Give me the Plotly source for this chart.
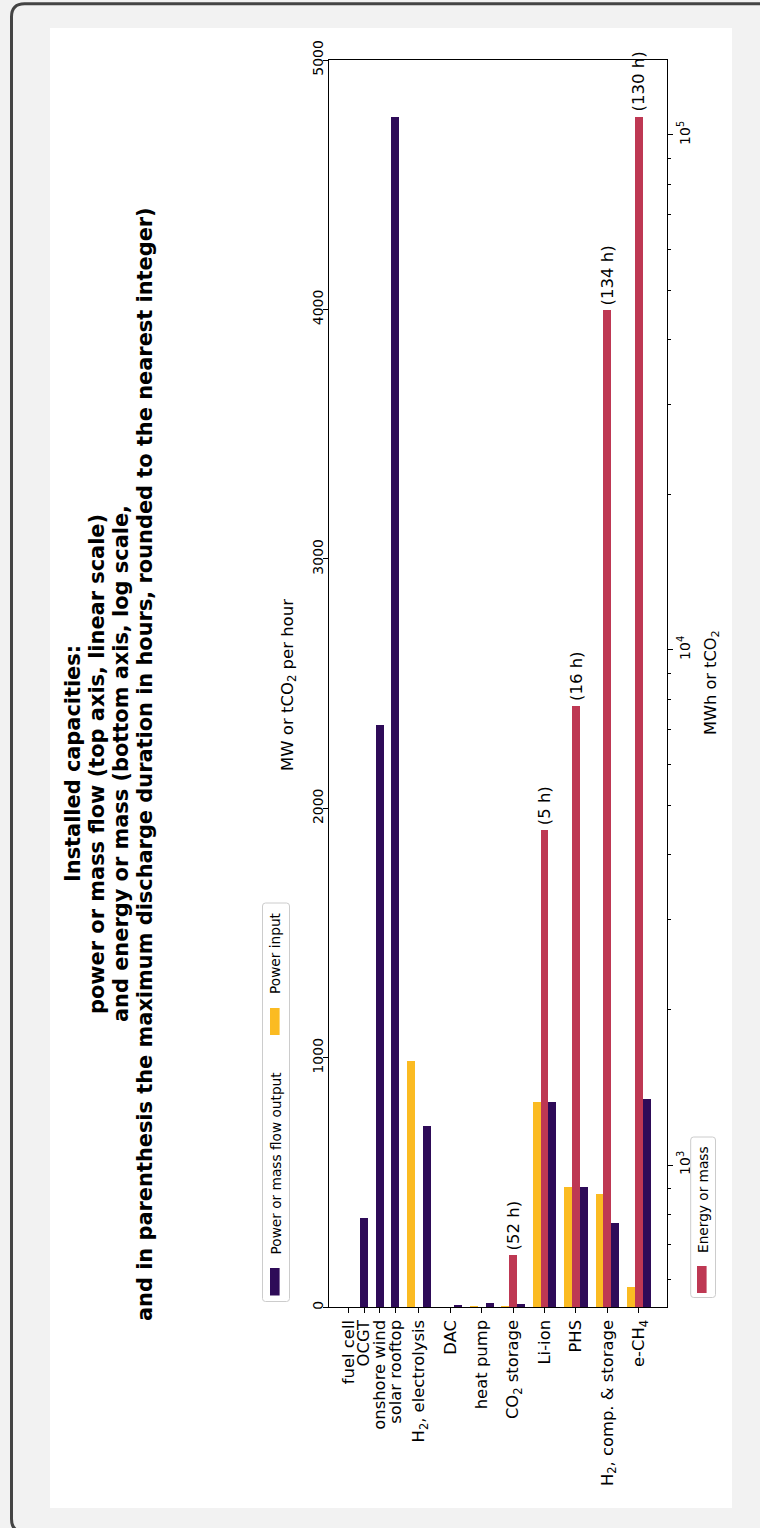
import numpy as np
import plotly.graph_objects as go

# ---------------- data ----------------
categories = ["fuel cell", "OCGT", "onshore wind", "solar rooftop",
              "H<sub>2</sub>, electrolysis", "DAC", "heat pump",
              "CO<sub>2</sub> storage", "Li-ion", "PHS",
              "H<sub>2</sub>, comp. & storage", "e-CH<sub>4</sub>"]
power_output = [0, 357, 2336, 4770, 727, 10, 16, 13, 823, 482, 339, 834]      # MW or tCO2/h
power_input = [None, None, None, None, 987, 0, 3, 3, 823, 482, 453, 81]        # MW
energy = [None, None, None, None, None, None, None, 668, 4467, 7782, 45700, 108500]  # MWh or tCO2
duration_text = [None, None, None, None, None, None, None,
                 "(52 h)", "(5 h)", "(16 h)", "(134 h)", "(130 h)"]
lin_ticks = [0, 1000, 2000, 3000, 4000, 5000]
log_ticks = [1e3, 1e4, 1e5]
log_ticktext = ["10<sup>3</sup>", "10<sup>4</sup>", "10<sup>5</sup>"]

# ---------------- layout helpers ----------------
W, H = 760, 1528
FONT = "DejaVu Sans"
C_OUT = "#2e0b58"
C_IN = "#fbbb22"
C_EN = "#be3853"

slot = [0, 0.5, 1, 1.5, 2.25, 3.25, 4.25, 5.25, 6.25, 7.25, 8.25, 9.25]
BW = 0.25

def px(x):
    return x / W

def py(y):
    return 1 - y / H

def rrect(x0, y0, x1, y1, r):
    pts = [
        f"M {px(x0 + r)},{py(y0)}",
        f"L {px(x1 - r)},{py(y0)}",
        f"Q {px(x1)},{py(y0)} {px(x1)},{py(y0 + r)}",
        f"L {px(x1)},{py(y1 - r)}",
        f"Q {px(x1)},{py(y1)} {px(x1 - r)},{py(y1)}",
        f"L {px(x0 + r)},{py(y1)}",
        f"Q {px(x0)},{py(y1)} {px(x0)},{py(y1 - r)}",
        f"L {px(x0)},{py(y0 + r)}",
        f"Q {px(x0)},{py(y0)} {px(x0 + r)},{py(y0)}",
        "Z",
    ]
    return " ".join(pts)

grouped = [(pi is not None) or (e is not None) for pi, e in zip(power_input, energy)]
x_out = [s + (BW if g else 0) for s, g in zip(slot, grouped)]
x_in = [s - BW for s in slot]

fig = go.Figure()

fig.add_trace(go.Bar(x=x_in, y=power_input, width=BW, marker=dict(color=C_IN, line=dict(width=0)),
                     name="Power input", showlegend=False, yaxis="y"))
fig.add_trace(go.Bar(x=x_out, y=power_output, width=BW, marker=dict(color=C_OUT, line=dict(width=0)),
                     name="Power or mass flow output", showlegend=False, yaxis="y"))
fig.add_trace(go.Bar(x=slot, y=energy, width=BW, marker=dict(color=C_EN, line=dict(width=0)),
                     name="Energy or mass", showlegend=False, yaxis="y2"))

# plot area in pixels
PL, PR, PT, PB = 329, 667, 60, 1307.3
UNIT = 31.4
x0_px = 348.3

fig.update_layout(
    width=W, height=H, autosize=False,
    margin=dict(l=0, r=0, t=0, b=0, pad=0),
    paper_bgcolor="#f2f2f2", plot_bgcolor="white",
    barmode="overlay", bargap=0,
    font=dict(family=FONT, color="black"),
    xaxis=dict(domain=[px(PL), px(PR)],
               range=[(PL - x0_px) / UNIT, (PR - x0_px) / UNIT],
               tickmode="array", tickvals=slot, ticktext=categories,
               tickangle=-90, tickfont=dict(size=16.4, family=FONT, color="black"),
               ticks="outside", ticklen=5, tickwidth=1.2, tickcolor="black",
               showline=True, linecolor="black", linewidth=1.2, mirror=True,
               showgrid=False, zeroline=False, automargin=False),
    yaxis=dict(domain=[py(PB), py(PT)], range=[0, 5000],
               tickmode="array", tickvals=lin_ticks,
               tickangle=-90, tickfont=dict(size=14, family=FONT, color="black"),
               ticklabelstandoff=-6,
               ticks="outside", ticklen=5, tickwidth=1.2, tickcolor="black",
               showline=True, linecolor="black", linewidth=1.2,
               showgrid=False, zeroline=False, automargin=False),
    yaxis2=dict(overlaying="y", side="right", type="log",
                range=[2.7237, 5.1456],
                tickmode="array", tickvals=log_ticks, ticktext=log_ticktext,
                tickangle=-90, tickfont=dict(size=14, family=FONT, color="black"),
                ticks="outside", ticklen=5, tickwidth=1.2, tickcolor="black",
                minor=dict(tickmode="array",
                           tickvals=[m * 10 ** k for k in (2, 3, 4) for m in range(2, 10)],
                           ticks="outside", ticklen=3, tickwidth=1, tickcolor="black",
                           showgrid=False),
                showline=True, linecolor="black", linewidth=1.2,
                showgrid=False, zeroline=False, automargin=False),
)

shapes = []
# white figure area
shapes.append(dict(type="rect", xref="paper", yref="paper", layer="below",
                   x0=px(50), x1=px(732), y0=py(1508), y1=py(28),
                   fillcolor="white", line=dict(width=0)))
# outer rounded frame
shapes.append(dict(type="path", xref="paper", yref="paper", layer="below",
                   path=rrect(11.5, 3.7, 820, 1532, 13),
                   line=dict(color="#444444", width=3), fillcolor="rgba(0,0,0,0)"))
# legend 1 box and patches
shapes.append(dict(type="path", xref="paper", yref="paper",
                   path=rrect(262.5, 903, 289.5, 1301.5, 3),
                   line=dict(color="#cccccc", width=1), fillcolor="rgba(255,255,255,0.8)"))
shapes.append(dict(type="rect", xref="paper", yref="paper",
                   x0=px(270), x1=px(279.6), y0=py(1295.5), y1=py(1268),
                   fillcolor=C_OUT, line=dict(width=0)))
shapes.append(dict(type="rect", xref="paper", yref="paper",
                   x0=px(270), x1=px(279.6), y0=py(1035), y1=py(1008),
                   fillcolor=C_IN, line=dict(width=0)))
# legend 2 box and patch
shapes.append(dict(type="path", xref="paper", yref="paper",
                   path=rrect(690.7, 1137, 715.5, 1297.5, 3),
                   line=dict(color="#cccccc", width=1), fillcolor="rgba(255,255,255,0.8)"))
shapes.append(dict(type="rect", xref="paper", yref="paper",
                   x0=px(697), x1=px(706.6), y0=py(1293), y1=py(1266),
                   fillcolor=C_EN, line=dict(width=0)))
fig.update_layout(shapes=shapes)

ann = []
def rot_text(text, x, y, size, bold=False, yanchor="middle"):
    if bold:
        text = f"<b>{text}</b>"
    ann.append(dict(text=text, x=px(x), y=py(y), xref="paper", yref="paper",
                    xanchor="center", yanchor=yanchor, showarrow=False,
                    textangle=-90, font=dict(family=FONT, size=size, color="black")))

# title lines
title_lines = ["Installed capacities:",
               "power or mass flow (top axis, linear scale)",
               "and energy or mass (bottom axis, log scale,",
               "and in parenthesis the maximum discharge duration in hours, rounded to the nearest integer)"]
for i, t in enumerate(title_lines):
    rot_text(t, 73 + i * 24, 764, 20.9, bold=True)

# axis titles
rot_text("MW or tCO<sub>2</sub> per hour", 288, 685, 16.5)
rot_text("MWh or tCO<sub>2</sub>", 712, 683, 16.2)

# legend texts
rot_text("Power or mass flow output", 275, 1257, 13.7, yanchor="bottom")
rot_text("Power input", 275, 996, 13.7, yanchor="bottom")
rot_text("Energy or mass", 702.5, 1255, 13.7, yanchor="bottom")

# duration labels above energy bars
for s, e, t in zip(slot, energy, duration_text):
    if t is None:
        continue
    ann.append(dict(text=t, x=s, y=np.log10(e), xref="x", yref="y2",
                    xanchor="center", yanchor="bottom", yshift=3, showarrow=False,
                    textangle=-90, font=dict(family=FONT, size=16.5, color="black")))

fig.update_layout(annotations=ann)

fig.write_html("out.html",
               config={"displayModeBar": False},
               post_script="document.body.style.margin='0px';"
                           "document.body.style.background='#f2f2f2';"
                           "document.documentElement.style.overflow='hidden';")
